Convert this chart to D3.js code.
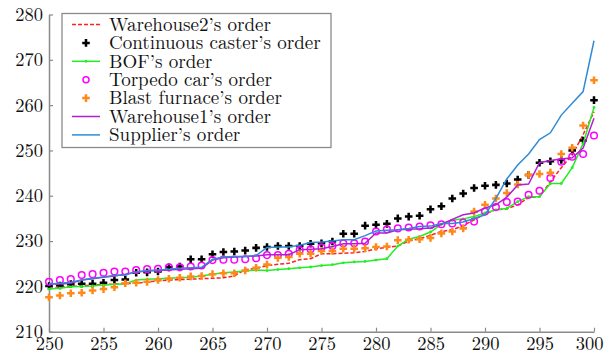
<!DOCTYPE html>
<html>
<head>
<meta charset="utf-8">
<script src="https://cdn.jsdelivr.net/npm/d3@7"></script>
<style>
body { margin:0; background:#fff; }
</style>
</head>
<body>
<div id="chart"></div>
<script>
var days = d3.range(250, 301);

var warehouse2 = [219.5,219.7,220.0,220.1,220.3,220.4,220.5,220.6,220.7,221.0,221.2,221.4,221.5,221.6,221.7,221.8,221.9,222.3,223.7,224.0,224.6,224.9,225.1,225.9,226.1,227.2,227.2,227.3,227.4,227.7,228.3,228.6,228.9,230.0,230.5,231.3,232.1,232.5,233.4,234.7,236.0,236.9,237.1,238.0,239.6,239.8,243.1,246.2,249.0,253.5,258.5];
var caster = [220.1,220.2,220.5,220.6,220.6,220.8,221.4,221.5,223.0,223.1,223.3,224.2,224.4,226.0,226.0,227.1,227.6,227.7,227.9,228.5,228.7,228.9,228.9,228.9,229.4,229.5,229.9,231.6,231.6,233.4,233.6,233.8,235.0,235.4,235.6,237.0,237.7,239.4,240.5,241.7,242.2,242.4,242.7,243.6,244.6,247.3,247.6,247.9,250.0,252.2,261.1];
var bof = [219.4,219.6,219.9,220.0,220.1,220.3,220.4,220.6,221.4,221.6,221.7,221.8,221.9,222.0,222.3,222.7,223.0,223.2,223.4,223.6,223.5,223.7,223.9,224.1,224.3,224.6,224.8,225.2,225.4,225.5,225.8,226.1,228.9,230.4,231.0,232.0,233.7,234.6,234.9,235.4,236.2,236.9,237.2,238.7,239.8,239.8,242.7,242.7,246.2,251.5,259.5];
var torpedo = [221.0,221.4,221.6,222.5,222.7,223.0,223.3,223.3,223.6,223.8,223.9,224.2,224.2,224.4,224.6,225.8,225.9,225.9,226.0,226.2,226.9,226.9,227.2,228.0,228.2,228.6,228.9,229.5,229.5,229.9,232.1,232.6,232.8,233.0,233.2,233.5,233.7,233.9,234.1,234.3,236.5,237.5,238.6,238.7,240.2,241.1,243.9,247.5,248.6,249.2,253.3];
var furnace = [217.6,218.0,218.5,218.6,219.1,219.4,219.8,220.7,220.8,221.0,221.4,221.7,221.9,222.2,222.3,222.7,222.9,222.9,223.5,224.1,224.8,226.3,226.5,227.2,227.2,227.8,227.8,228.3,228.3,228.4,228.7,228.8,230.2,230.3,230.4,230.7,231.7,232.1,232.8,236.5,238.0,239.4,240.6,242.5,244.6,244.8,245.1,249.2,250.6,255.5,265.5];
var warehouse1 = [220.5,220.5,220.7,221.4,221.7,222.0,222.3,222.7,223.2,223.4,223.5,223.6,223.8,223.9,224.0,225.8,226.3,226.5,226.6,226.7,227.0,227.0,227.0,228.1,228.2,228.3,228.8,229.4,229.4,229.5,231.8,231.8,232.5,232.6,232.7,232.9,233.7,234.8,235.8,236.2,237.3,238.0,239.7,242.4,242.6,247.3,247.8,248.1,248.4,250.5,257.1];
var supplier = [220.5,220.7,220.9,221.4,221.8,222.1,222.4,222.5,223.2,223.5,223.6,223.8,224.0,224.1,224.2,226.0,226.5,226.6,226.6,226.8,228.6,228.7,228.7,229.1,229.7,229.8,230.0,230.3,230.3,231.2,232.2,232.4,232.5,232.8,233.2,233.3,233.9,233.9,234.2,235.0,235.8,239.4,243.7,246.8,249.2,252.4,253.9,257.8,260.4,263.0,274.2];

var xTicks = [250,255,260,265,270,275,280,285,290,295,300];
var yTicks = [210,220,230,240,250,260,270,280];

var series = [
    {name:"Warehouse2\u2019s order", values:warehouse2, type:"dash", color:"#ff2020"},
    {name:"Continuous caster\u2019s order", values:caster, type:"plus", color:"#000000"},
    {name:"BOF\u2019s order", values:bof, type:"dotline", color:"#22ee22"},
    {name:"Torpedo car\u2019s order", values:torpedo, type:"circle", color:"#ff00ff"},
    {name:"Blast furnace\u2019s order", values:furnace, type:"plus", color:"#ff8a1c"},
    {name:"Warehouse1\u2019s order", values:warehouse1, type:"line", color:"#b41ed2"},
    {name:"Supplier\u2019s order", values:supplier, type:"line", color:"#2f8bd6"}
];

var FONT = "'Latin Modern Roman', 'CMU Serif', 'Liberation Serif', serif";

var width = 605, height = 357;
var svg = d3.select("#chart").append("svg")
    .attr("width", width)
    .attr("height", height);

var x = d3.scaleLinear().domain([250, 300]).range([49, 594]);
var y = d3.scaleLinear().domain([210, 280]).range([331.7, 14.5]);

var axisColor = "#8a8a8a";

// axes
var gx = svg.append("g")
    .attr("transform", "translate(0," + y(210) + ")")
    .call(d3.axisBottom(x).tickValues(xTicks).tickSize(-4).tickSizeOuter(0).tickPadding(5));
var gy = svg.append("g")
    .attr("transform", "translate(" + x(250) + ",0)")
    .call(d3.axisLeft(y).tickValues(yTicks).tickSize(-4).tickSizeOuter(0).tickPadding(6));

[gx, gy].forEach(function(g){
    g.attr("font-family", FONT).attr("font-size", 18.5);
    g.select(".domain").attr("stroke", axisColor).attr("stroke-width", 1.5);
    g.selectAll(".tick line").attr("stroke", axisColor).attr("stroke-width", 1.2);
    g.selectAll(".tick text").attr("fill", "#111");
});
gx.selectAll(".tick text").attr("dy", "0.7em");
gy.selectAll(".tick text").attr("dy", "0.32em");
// last x label sits against the right edge, as in the picture
gx.selectAll(".tick text").filter(function(d){ return d == 300; }).attr("x", -5);

var line = d3.line()
    .x(function(d, i){ return x(days[i]); })
    .y(function(d){ return y(d); });

var plusPath = d3.symbol().type(d3.symbolCross).size(32);

function drawSeries(g, s) {
    if (s.type == "dash" || s.type == "line" || s.type == "dotline") {
        g.append("path")
            .attr("d", line(s.values))
            .attr("fill", "none")
            .attr("stroke", s.color)
            .attr("stroke-width", 1.5)
            .attr("stroke-dasharray", s.type == "dash" ? "4,2" : null);
    }
    if (s.type == "dotline") {
        g.selectAll(".dot")
            .data(s.values)
            .enter().append("circle")
            .attr("cx", function(d, i){ return x(days[i]); })
            .attr("cy", function(d){ return y(d); })
            .attr("r", 1.4)
            .attr("fill", s.color);
    }
    if (s.type == "plus") {
        g.selectAll(".plus")
            .data(s.values)
            .enter().append("path")
            .attr("d", plusPath)
            .attr("transform", function(d, i){ return "translate(" + x(days[i]) + "," + y(d) + ")"; })
            .attr("fill", s.color);
    }
    if (s.type == "circle") {
        g.selectAll(".circ")
            .data(s.values)
            .enter().append("circle")
            .attr("cx", function(d, i){ return x(days[i]); })
            .attr("cy", function(d){ return y(d); })
            .attr("r", 3.3)
            .attr("fill", "none")
            .attr("stroke", s.color)
            .attr("stroke-width", 1.5);
    }
}

series.forEach(function(s){
    drawSeries(svg.append("g"), s);
});

// legend
var lg = svg.append("g");
lg.append("rect")
    .attr("x", 62).attr("y", 13.5)
    .attr("width", 269).attr("height", 134)
    .attr("fill", "#fff")
    .attr("stroke", axisColor)
    .attr("stroke-width", 1.3);

// size the legend font so the longest label is about as wide as in the picture
var probe = lg.append("text").attr("font-family", FONT).attr("font-size", 20).text(series[1].name);
var legendSize = 20 * 212 / probe.node().getComputedTextLength();
probe.remove();

series.forEach(function(s, i){
    var cy = 24.5 + i * 18.4;
    var row = lg.append("g");
    if (s.type == "dash" || s.type == "line" || s.type == "dotline") {
        row.append("line")
            .attr("x1", 72).attr("x2", 100)
            .attr("y1", cy).attr("y2", cy)
            .attr("stroke", s.color)
            .attr("stroke-width", 1.5)
            .attr("stroke-dasharray", s.type == "dash" ? "4,2" : null);
    }
    if (s.type == "dotline") {
        row.append("circle").attr("cx", 86).attr("cy", cy).attr("r", 1.4).attr("fill", s.color);
    }
    if (s.type == "plus") {
        row.append("path").attr("d", plusPath).attr("transform", "translate(86," + cy + ")").attr("fill", s.color);
    }
    if (s.type == "circle") {
        row.append("circle").attr("cx", 86).attr("cy", cy).attr("r", 3)
            .attr("fill", "none").attr("stroke", s.color).attr("stroke-width", 1.5);
    }
    row.append("text")
        .attr("x", 109)
        .attr("y", cy)
        .attr("dy", "0.33em")
        .attr("fill", "#111")
        .attr("font-family", FONT)
        .attr("font-size", legendSize)
        .text(s.name);
});
</script>
</body>
</html>
